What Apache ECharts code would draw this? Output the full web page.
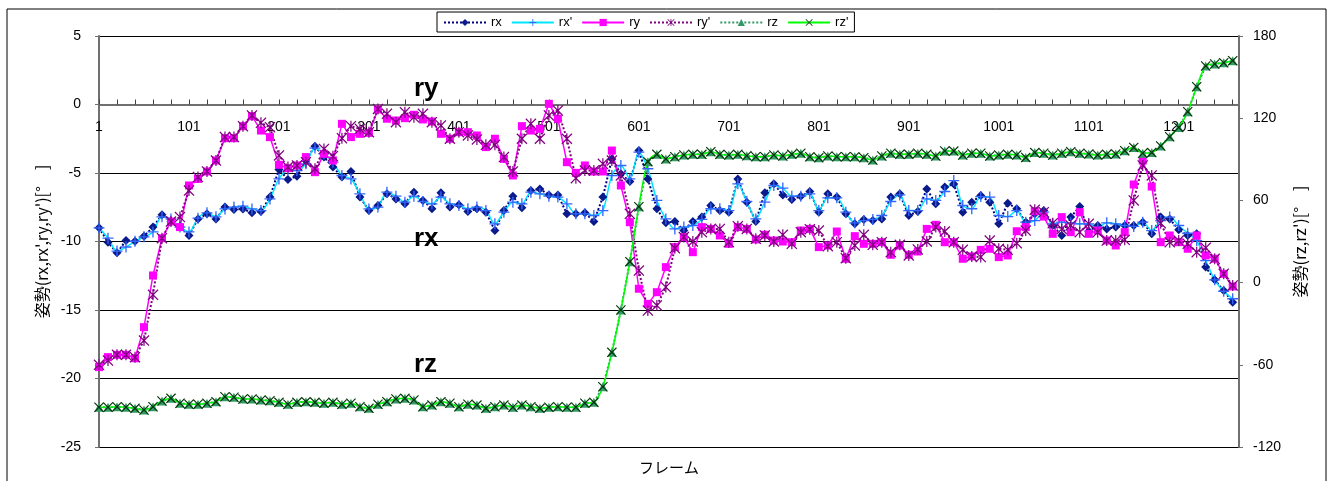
<!DOCTYPE html>
<html>
<head>
<meta charset="utf-8">
<script src="https://cdn.jsdelivr.net/npm/echarts@6/dist/echarts.min.js"></script>
<style>
  html, body { margin: 0; padding: 0; background: #ffffff; }
  #chart { width: 1335px; height: 481px; }
</style>
</head>
<body>
<div id="chart"></div>
<script>
// Frames 1..FRAME_COUNT on the horizontal axis; sampled values every STEP frames
const FRAME_COUNT = 1268;
const STEP = 10;

// Left axis (rx, rx', ry, ry') and right axis (rz, rz') tick ranges
const leftTicks = [-25, -20, -15, -10, -5, 0, 5];
const rightTicks = [-120, -60, 0, 60, 120, 180];

const seriesNames = ["rx", "rx'", "ry", "ry'", "rz", "rz'"];

// Attitude samples at frames 1, 11, 21, ... 1261
const rx = [
  -9.0, -10.05, -10.83, -9.93, -9.98, -9.61, -8.95, -8.05, -8.54, -8.88, -9.56, -8.35, -7.98, -8.35, -7.49, -7.66,
  -7.62, -7.91, -7.81, -6.76, -4.74, -5.47, -5.23, -4.09, -3.04, -3.84, -4.57, -5.30, -4.89, -6.76, -7.74, -7.37,
  -6.52, -6.89, -7.25, -6.4, -7.0, -7.61, -6.45, -7.49, -7.32, -7.81, -7.61, -7.86, -9.2, -7.74, -6.69, -7.53,
  -6.28, -6.16, -6.6, -6.6, -7.98, -7.98, -7.91, -8.54, -6.76, -3.97, -5.06, -5.62, -3.36, -5.43, -7.61, -8.64,
  -8.54, -9.2, -8.54, -8.22, -7.37, -7.74, -7.86, -5.43, -7.13, -8.54, -6.45, -5.79, -6.6, -6.93, -6.69, -6.35,
  -7.86, -6.52, -6.76, -7.98, -8.71, -8.39, -8.47, -8.35, -6.76, -6.52, -8.1, -7.81, -6.16, -7.25, -6.03, -5.8,
  -7.86, -7.13, -6.64, -7.13, -8.71, -7.2, -7.61, -8.59, -7.98, -7.74, -8.83, -9.56, -8.22, -7.45, -9.25, -8.83,
  -9.08, -8.95, -8.83, -8.83, -8.59, -9.44, -8.22, -8.35, -9.15, -9.56, -9.44, -11.87, -12.8, -13.58, -14.43
];
const rxSmooth = [
  -9.0, -9.76, -10.7, -10.4, -9.98, -9.66, -9.3, -8.2, -8.35, -8.95, -9.3, -8.3, -7.91, -8.2, -7.62, -7.49,
  -7.42, -7.62, -7.74, -6.89, -5.43, -4.82, -4.82, -4.33, -3.18, -3.6, -4.21, -5.18, -5.43, -6.52, -7.62, -7.49,
  -6.4, -6.69, -7.13, -6.69, -7.08, -7.25, -6.76, -7.25, -7.37, -7.61, -7.49, -7.74, -8.71, -7.86, -7.13, -7.25,
  -6.4, -6.52, -6.69, -6.76, -7.25, -7.98, -7.98, -8.1, -7.74, -5.18, -4.45, -5.43, -3.48, -4.69, -7.0, -8.35,
  -9.08, -8.95, -8.83, -8.39, -7.61, -7.61, -7.74, -5.79, -7.08, -8.35, -7.13, -5.91, -6.1, -6.69, -6.69, -6.52,
  -7.74, -6.81, -6.81, -7.86, -8.64, -8.47, -8.39, -8.1, -7.08, -6.6, -7.74, -7.74, -6.89, -7.0, -6.35, -5.55,
  -7.37, -7.61, -6.72, -6.76, -8.1, -8.18, -7.74, -8.59, -8.47, -7.86, -8.71, -8.59, -8.64, -8.71, -8.71, -8.95,
  -8.64, -8.71, -8.83, -8.9, -8.59, -9.2, -8.47, -8.22, -8.83, -9.4, -9.93, -11.39, -12.8, -13.63, -14.18
];
const ry = [
  -19.17, -18.44, -18.27, -18.27, -18.52, -16.25, -12.48, -9.76, -8.54, -8.95, -5.91, -5.43, -4.89, -4.09, -2.46, -2.46,
  -1.58, -0.85, -1.9, -2.38, -4.4, -4.65, -4.45, -3.84, -4.94, -3.6, -4.09, -1.41, -2.38, -2.14, -2.07, -0.36,
  -1.04, -1.17, -1.0, -0.75, -1.09, -1.24, -2.14, -2.5, -2.02, -2.02, -2.26, -3.11, -2.5, -3.97, -5.18, -1.58,
  -1.9, -1.78, 0.05, -1.04, -4.21, -4.99, -4.45, -4.89, -4.89, -3.36, -5.91, -8.59, -13.45, -14.55, -13.7, -11.87,
  -10.41, -9.68, -10.78, -8.95, -9.08, -9.56, -10.17, -8.95, -9.08, -9.85, -9.51, -9.93, -10.0, -10.05, -9.2, -9.08,
  -10.41, -10.29, -9.27, -11.26, -9.61, -10.17, -10.17, -10.05, -10.97, -10.29, -10.97, -10.73, -9.08, -8.78, -10.05, -10.05,
  -11.26, -11.09, -10.61, -10.53, -11.14, -11.02, -9.25, -8.95, -7.79, -8.18, -9.44, -8.22, -9.32, -7.86, -9.44, -9.2,
  -9.93, -10.29, -9.32, -5.84, -4.09, -5.99, -10.05, -9.56, -10.05, -10.53, -9.56, -11.02, -11.26, -12.36, -13.28
];
const rySmooth = [
  -19.0, -18.69, -18.27, -18.27, -18.44, -17.23, -13.89, -9.76, -8.54, -8.22, -6.28, -5.3, -4.89, -4.09, -2.38, -2.38,
  -1.58, -0.8, -1.34, -1.66, -3.72, -4.57, -4.45, -4.21, -4.69, -3.24, -3.77, -2.46, -1.58, -1.78, -2.02, -0.32,
  -0.68, -1.29, -0.56, -0.93, -0.68, -1.29, -1.53, -2.5, -2.02, -2.26, -2.55, -2.94, -2.94, -3.84, -4.89, -2.5,
  -1.41, -2.5, -0.8, -0.44, -2.5, -5.38, -4.82, -4.82, -4.33, -4.09, -5.18, -7.98, -12.12, -15.04, -14.67, -13.33,
  -10.49, -9.68, -10.0, -9.32, -9.08, -9.08, -10.05, -8.88, -9.08, -9.8, -9.56, -10.0, -9.51, -10.17, -9.32, -9.1,
  -9.2, -10.34, -10.05, -11.22, -10.29, -9.51, -10.24, -10.05, -10.78, -10.24, -11.02, -10.58, -10.0, -8.95, -9.27, -10.05,
  -10.61, -11.09, -11.14, -9.93, -10.53, -10.61, -10.12, -9.2, -7.69, -7.86, -8.66, -9.08, -8.83, -9.32, -8.71, -9.32,
  -9.93, -9.93, -9.88, -7.0, -4.45, -5.18, -8.66, -10.05, -9.93, -10.17, -10.78, -10.46, -11.26, -12.36, -13.21
];
const rz = [
  -91, -91, -90.6, -91, -91.8, -93, -90.6, -86.4, -84.5, -88.1, -88.8, -88.8, -88.1, -86.9, -83.3, -83.7,
  -85, -85, -85.7, -86.2, -87.4, -88.8, -87.4, -86.9, -87.4, -88.1, -87.4, -88.8, -88.1, -90.6, -91.8, -88.8,
  -86.9, -85, -84.5, -85.7, -90.6, -89.4, -86.9, -88.1, -90.6, -88.8, -89.4, -91.8, -90.6, -89.4, -91, -89.4,
  -90.6, -91.8, -91, -90.6, -91, -91, -88.1, -87.4, -76, -50.9, -20, 15.3, 55.4, 88.3, 93.6, 90.2,
  91.9, 93.1, 93.6, 93.6, 95.6, 93.6, 93.1, 93.6, 92.6, 91.9, 91.9, 93.1, 92.4, 93.6, 94.4, 91.9,
  91.2, 92.4, 91.9, 91.9, 91.9, 91.2, 89.5, 92.4, 94.4, 93.6, 93.6, 94.4, 93.6, 92.4, 96.1, 96.0,
  93.1, 94.4, 94.4, 92.4, 93.1, 93.6, 93.1, 91.4, 94.9, 94.4, 93.1, 94.4, 95.6, 94.4, 93.9, 93.1,
  93.6, 93.9, 96.3, 98.7, 94.4, 94.9, 99.7, 106.5, 113.3, 124.7, 143, 158.1, 159.6, 160.5, 162
];
const rzSmooth = [
  -91, -91, -90.6, -91, -91.8, -93, -90.6, -86.4, -84.5, -88.1, -88.8, -88.8, -88.1, -86.9, -83.3, -83.7,
  -85, -85, -85.7, -86.2, -87.4, -88.8, -87.4, -86.9, -87.4, -88.1, -87.4, -88.8, -88.1, -90.6, -91.8, -88.8,
  -86.9, -85, -84.5, -85.7, -90.6, -89.4, -86.9, -88.1, -90.6, -88.8, -89.4, -91.8, -90.6, -89.4, -91, -89.4,
  -90.6, -91.8, -91, -90.6, -91, -91, -88.1, -87.4, -76, -50.9, -20, 15.3, 55.4, 88.3, 93.6, 90.2,
  91.9, 93.1, 93.6, 93.6, 95.6, 93.6, 93.1, 93.6, 92.6, 91.9, 91.9, 93.1, 92.4, 93.6, 94.4, 91.9,
  91.2, 92.4, 91.9, 91.9, 91.9, 91.2, 89.5, 92.4, 94.4, 93.6, 93.6, 94.4, 93.6, 92.4, 96.1, 96.0,
  93.1, 94.4, 94.4, 92.4, 93.1, 93.6, 93.1, 91.4, 94.9, 94.4, 93.1, 94.4, 95.6, 94.4, 93.9, 93.1,
  93.6, 93.9, 96.3, 98.7, 94.4, 94.9, 99.7, 106.5, 113.3, 124.7, 143, 158.1, 159.6, 160.5, 162
];

// Category list of frame numbers
const frames = [];
for (let f = 1; f <= FRAME_COUNT; f++) frames.push(String(f));

// Place each sample on its frame index
const toPairs = (arr) => arr.map((v, i) => [i * STEP, v]);

// Marker shapes drawn as filled outlines
const PLUS = 'path://M4.4,0H5.6V4.4H10V5.6H5.6V10H4.4V5.6H0V4.4H4.4Z';
const CROSS = 'path://M0,0.8L0.8,0L5,4.2L9.2,0L10,0.8L5.8,5L10,9.2L9.2,10L5,5.8L0.8,10L0,9.2L4.2,5Z';
const STAR = 'path://M0,0.8L0.8,0L5,4.2L9.2,0L10,0.8L5.8,5L10,9.2L9.2,10L5,5.8L0.8,10L0,9.2L4.2,5Z M4.45,0H5.55V10H4.45Z';

const font = 'Liberation Sans, Arial, sans-serif';
const jpFont = 'Noto Sans CJK JP, sans-serif';

function lineSeries(name, data, axis, opts) {
  return {
    name: name,
    type: 'line',
    yAxisIndex: axis,
    data: toPairs(data),
    showAllSymbol: true,
    symbol: opts.symbol,
    symbolSize: opts.size,
    smooth: opts.smooth || false,
    lineStyle: { color: opts.line, width: opts.width, type: opts.type || 'solid' },
    itemStyle: { color: opts.marker },
    emphasis: { disabled: true },
    animation: false
  };
}

const chart = echarts.init(document.getElementById('chart'), null, { renderer: 'canvas' });

chart.setOption({
  backgroundColor: '#ffffff',
  animation: false,
  grid: { left: 99, right: 96, top: 36, bottom: 34, containLabel: false },
  legend: {
    data: seriesNames,
    top: 12,
    left: 437,
    itemWidth: 42,
    itemHeight: 9,
    itemGap: 9,
    padding: [4, 6, 3, 6],
    borderColor: '#000000',
    borderWidth: 1,
    textStyle: { fontFamily: font, fontSize: 13, color: '#000000' }
  },
  xAxis: {
    type: 'category',
    data: frames,
    boundaryGap: false,
    offset: 0,
    axisLine: { onZero: false, lineStyle: { color: '#707070', width: 2 } },
    axisTick: { show: true, inside: true, interval: 19, length: 5, lineStyle: { color: '#404040', width: 1 } },
    axisLabel: { interval: 99, margin: 16, fontFamily: font, fontSize: 14, color: '#000000' },
    splitLine: { show: false }
  },
  yAxis: [
    {
      type: 'value',
      position: 'left',
      min: leftTicks[0],
      max: leftTicks[leftTicks.length - 1],
      interval: 5,
      name: "姿勢(rx,rx',ry,ry')[°　]",
      nameLocation: 'middle',
      nameRotate: 90,
      nameGap: 49,
      nameTextStyle: { fontFamily: jpFont, fontSize: 16, color: '#000000' },
      axisLine: { show: true, lineStyle: { color: '#707070', width: 2 } },
      axisTick: { show: true, length: 4, lineStyle: { color: '#707070' } },
      axisLabel: { margin: 18, fontFamily: font, fontSize: 14, color: '#000000' },
      splitLine: { show: true, lineStyle: { color: '#000000', width: 1 } }
    },
    {
      type: 'value',
      position: 'right',
      min: rightTicks[0],
      max: rightTicks[rightTicks.length - 1],
      interval: 60,
      name: "姿勢(rz,rz')[°　]",
      nameLocation: 'middle',
      nameRotate: 90,
      nameGap: 53,
      nameTextStyle: { fontFamily: jpFont, fontSize: 16, color: '#000000' },
      axisLine: { show: true, lineStyle: { color: '#707070', width: 2 } },
      axisTick: { show: true, length: 4, lineStyle: { color: '#707070' } },
      axisLabel: { margin: 14, fontFamily: font, fontSize: 14, color: '#000000' },
      splitLine: { show: false }
    }
  ],
  series: [
    lineSeries('rx', rx, 0, { symbol: 'diamond', size: 9, line: '#000080', marker: '#0a1a8a', width: 2, type: 'dotted' }),
    lineSeries("rx'", rxSmooth, 0, { symbol: PLUS, size: 11, line: '#00e5ff', marker: '#3366ff', width: 1.5, smooth: 0.3 }),
    lineSeries('ry', ry, 0, { symbol: 'rect', size: 8, line: '#ff00ff', marker: '#ff00ff', width: 1.5 }),
    lineSeries("ry'", rySmooth, 0, { symbol: STAR, size: 11, line: '#800080', marker: '#800080', width: 2, type: 'dotted' }),
    lineSeries('rz', rz, 1, { symbol: 'triangle', size: 9, line: '#339966', marker: '#339966', width: 2, type: 'dotted' }),
    lineSeries("rz'", rzSmooth, 1, { symbol: CROSS, size: 10, line: '#00ff00', marker: '#003300', width: 1.5, smooth: 0.3 })
  ],
  graphic: [
    { type: 'rect', z: -10, shape: { x: 7, y: 9, width: 1319, height: 520 }, style: { fill: 'none', stroke: '#000000', lineWidth: 1 } },
    { type: 'text', left: 414, top: 76, style: { text: 'ry', font: 'bold 26px ' + font, fill: '#000000' } },
    { type: 'text', left: 414, top: 226, style: { text: 'rx', font: 'bold 26px ' + font, fill: '#000000' } },
    { type: 'text', left: 414, top: 352, style: { text: 'rz', font: 'bold 26px ' + font, fill: '#000000' } },
    { type: 'text', left: 639, top: 460, style: { text: 'フレーム', font: '15px ' + jpFont, fill: '#000000' } }
  ]
});

// The frame axis crosses the left axis at 0: lift it from the plot bottom to that level
const zeroY = chart.convertToPixel({ yAxisIndex: 0 }, 0);
const bottomY = chart.convertToPixel({ yAxisIndex: 0 }, leftTicks[0]);
chart.setOption({ xAxis: { offset: zeroY - bottomY } });
</script>
</body>
</html>
